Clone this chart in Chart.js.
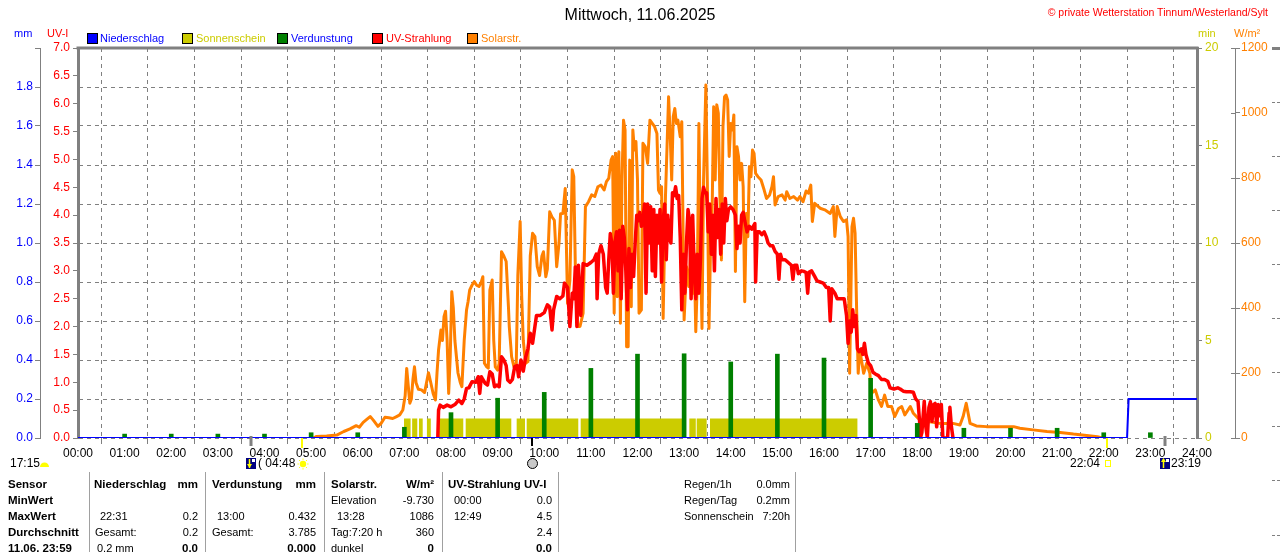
<!DOCTYPE html>
<html><head><meta charset="utf-8">
<script src="https://cdn.jsdelivr.net/npm/chart.js@4.4.1/dist/chart.umd.min.js"></script>
<style>
html,body{margin:0;padding:0;background:#fff;width:1280px;height:552px;overflow:hidden;font-family:"Liberation Sans",Arial,sans-serif;}
#wrap{position:relative;width:1280px;height:552px;overflow:hidden;}
canvas{position:absolute;left:0;top:0;}
.t{position:absolute;font-size:11px;line-height:14px;height:14px;white-space:nowrap;color:#000;}
.b{font-weight:bold;font-size:11.5px;}
.sq{position:absolute;width:9px;height:9px;border:1px solid #000;}
.vl{position:absolute;width:1px;background:#a0a0a0;top:472px;height:80px;}
</style></head>
<body><div id="wrap">
<canvas id="c" width="1280" height="552"></canvas>

<div class="t" style="left:0;width:1280px;text-align:center;top:7px;font-size:16px;line-height:16px;height:16px;">Mittwoch, 11.06.2025</div>
<div class="t" style="right:12px;top:5px;color:#ff0000;font-size:10.5px;">© private Wetterstation Tinnum/Westerland/Sylt</div>

<div class="t" style="left:14px;top:26px;color:#0000ff;">mm</div>
<div class="t" style="left:47px;top:26px;color:#ff0000;">UV-I</div>
<div class="t" style="left:1198px;top:26px;color:#cccc00;">min</div>
<div class="t" style="left:1234px;top:26px;color:#ff8000;">W/m²</div>

<div class="sq" style="left:87px;top:33px;background:#0000ff"></div><div class="t" style="left:100px;top:31px;color:#0000ff">Niederschlag</div>
<div class="sq" style="left:182px;top:33px;background:#cccc00"></div><div class="t" style="left:196px;top:31px;color:#cccc00">Sonnenschein</div>
<div class="sq" style="left:277px;top:33px;background:#008000"></div><div class="t" style="left:291px;top:31px;color:#0000ff">Verdunstung</div>
<div class="sq" style="left:372px;top:33px;background:#ff0000"></div><div class="t" style="left:386px;top:31px;color:#ff0000">UV-Strahlung</div>
<div class="sq" style="left:467px;top:33px;background:#ff8000"></div><div class="t" style="left:481px;top:31px;color:#ff8000">Solarstr.</div>

<div class="t" style="left:10px;top:456px;font-size:12px;">17:15</div>
<div class="t" style="left:258px;top:456px;font-size:12px;">( 04:48</div>
<div class="t" style="right:180px;top:456px;font-size:12px;">22:04</div>
<div class="t" style="left:1171px;top:456px;font-size:12px;">23:19</div>

<div class="vl" style="left:89px"></div>
<div class="vl" style="left:205px"></div>
<div class="vl" style="left:324px"></div>
<div class="vl" style="left:442px"></div>
<div class="vl" style="left:558px"></div>
<div class="vl" style="left:795px"></div>

<div class="t b" style="left:8px;top:477px;">Sensor</div>
<div class="t b" style="left:94px;top:477px;">Niederschlag</div>
<div class="t b" style="right:1082px;top:477px;">mm</div>
<div class="t b" style="left:212px;top:477px;">Verdunstung</div>
<div class="t b" style="right:964px;top:477px;">mm</div>
<div class="t b" style="left:331px;top:477px;">Solarstr.</div>
<div class="t b" style="right:846px;top:477px;">W/m²</div>
<div class="t b" style="left:448px;top:477px;">UV-Strahlung UV-I</div>

<div class="t b" style="left:8px;top:493px;">MinWert</div>
<div class="t" style="left:331px;top:493px;">Elevation</div>
<div class="t" style="right:846px;top:493px;">-9.730</div>
<div class="t" style="left:454px;top:493px;">00:00</div>
<div class="t" style="right:728px;top:493px;">0.0</div>

<div class="t b" style="left:8px;top:509px;">MaxWert</div>
<div class="t" style="left:100px;top:509px;">22:31</div>
<div class="t" style="right:1082px;top:509px;">0.2</div>
<div class="t" style="left:217px;top:509px;">13:00</div>
<div class="t" style="right:964px;top:509px;">0.432</div>
<div class="t" style="left:337px;top:509px;">13:28</div>
<div class="t" style="right:846px;top:509px;">1086</div>
<div class="t" style="left:454px;top:509px;">12:49</div>
<div class="t" style="right:728px;top:509px;">4.5</div>

<div class="t b" style="left:8px;top:525px;">Durchschnitt</div>
<div class="t" style="left:95px;top:525px;">Gesamt:</div>
<div class="t" style="right:1082px;top:525px;">0.2</div>
<div class="t" style="left:212px;top:525px;">Gesamt:</div>
<div class="t" style="right:964px;top:525px;">3.785</div>
<div class="t" style="left:331px;top:525px;">Tag:7:20 h</div>
<div class="t" style="right:846px;top:525px;">360</div>
<div class="t" style="right:728px;top:525px;">2.4</div>

<div class="t b" style="left:8px;top:541px;">11.06. 23:59</div>
<div class="t" style="left:97px;top:541px;">0.2 mm</div>
<div class="t b" style="right:1082px;top:541px;">0.0</div>
<div class="t b" style="right:964px;top:541px;">0.000</div>
<div class="t" style="left:331px;top:541px;">dunkel</div>
<div class="t b" style="right:846px;top:541px;">0</div>
<div class="t b" style="right:728px;top:541px;">0.0</div>

<div class="t" style="left:684px;top:477px;">Regen/1h</div>
<div class="t" style="right:490px;top:477px;">0.0mm</div>
<div class="t" style="left:684px;top:493px;">Regen/Tag</div>
<div class="t" style="right:490px;top:493px;">0.2mm</div>
<div class="t" style="left:684px;top:509px;">Sonnenschein</div>
<div class="t" style="right:490px;top:509px;">7:20h</div>
</div>
<script>
// ---- data (x in minutes after midnight) ----
const hourLabels = ['00:00','01:00','02:00','03:00','04:00','05:00','06:00','07:00','08:00','09:00','10:00','11:00','12:00',
  '13:00','14:00','15:00','16:00','17:00','18:00','19:00','20:00','21:00','22:00','23:00','24:00'];

// Niederschlag (mm)
const rainPts = [[0,0],[1350,0],[1352,0.2],[1440,0.2]];

// Verdunstung (mm) at full hours
const evapHours = [1,2,3,4,5,6,7,8,9,10,11,12,13,14,15,16,17,18,19,20,21,22,23];
const evapMM    = [0.02,0.02,0.02,0.02,0.027,0.027,0.055,0.13,0.204,0.234,0.357,0.43,0.432,0.39,0.43,0.41,0.306,0.075,0.05,0.05,0.05,0.027,0.027];

// Sonnenschein (min) periods
const sunStart = [419.5,430,438.8,449,464.6,498.9,564.5,577.4,646.9,786.7,796.2,813.3];
const sunEnd   = [428,436.6,443.6,454,495.8,557.6,575.2,643.8,781,795,809,1003.3];
const sunValue = 1;

// Solarstrahlung (W/m²)
const solarPts = [[303,0],[307,5],[320,6],[333,9],[342,20],[350,28],[358,38],[362,33],[367,48],[372,58],[376,66],[380,55],[386,36],
[390,45],[395,64],[400,62],[405,60],[410,66],[414,71],[418,86],[421,130],[423,214],[425,160],[427,107],[429,120],[431,180],[433,219],
[435,170],[438,150],[442,148],[446,140],[451,201],[454,170],[457,137],[460,117],[462,200],[464,271],[467,332],[469,300],[471,373],
[473,390],[475,300],[477,137],[479,250],[481,450],[483,400],[485,300],[487,250],[489,200],[492,170],[494,158],[497,300],[500,394],
[502,420],[504,455],[507,470],[510,481],[513,470],[516,466],[519,480],[521,496],[523,230],[526,219],[528,215],[530,455],[533,486],
[535,300],[537,219],[540,209],[542,230],[545,573],[548,560],[551,543],[554,400],[555,343],[558,250],[561,219],[564,230],[566,500],
[569,666],[571,435],[573,300],[576,230],[579,235],[582,560],[585,630],[588,620],[591,527],[594,500],[597,560],[599,573],[602,496],
[604,520],[607,696],[610,680],[613,670],[616,527],[619,600],[621,690],[624,691],[627,768],[630,414],[633,486],[636,825],[638,804],
[640,527],[643,343],[646,343],[650,384],[653,712],[657,727],[661,748],[665,743],[669,773],[673,778],[677,763],[680,789],[683,799],
[686,855],[688,866],[690,384],[692,876],[694,435],[696,881],[698,353],[700,794],[702,978],[704,948],[706,281],[708,281],[710,855],
[712,404],[714,948],[716,886],[718,912],[720,794],[722,384],[725,394],[727,907],[730,896],[733,845],[736,978],[739,968],[742,958],
[745,937],[747,763],[749,753],[751,773],[753,368],[756,743],[758,896],[760,1050],[762,937],[764,794],[766,989],[768,1014],[770,968],
[772,978],[775,927],[777,973],[780,363],[783,527],[786,466],[789,589],[791,445],[793,568],[795,327],[797,486],[799,968],[801,589],
[803,337],[805,794],[808,1086],[810,763],[812,337],[814,589],[816,691],[818,1019],[820,794],[822,1025],[824,999],[826,743],[828,548],
[830,958],[832,1050],[834,1055],[836,1040],[838,866],[840,968],[842,948],[844,994],[846,512],[848,896],[850,866],[852,794],[854,845],
[856,773],[858,419],[860,691],[862,619],[864,835],[866,804],[868,886],[870,876],[872,814],[875,804],[879,794],[883,763],[886,737],
[890,748],[893,773],[895,804],[897,717],[901,743],[906,748],[910,732],[912,758],[916,737],[921,743],[926,732],[929,743],[933,727],
[937,760],[940,753],[943,778],[945,666],[948,722],[955,707],[961,702],[968,691],[972,712],[974,620],[977,712],[981,681],[985,666],
[989,671],[991,620],[993,199],[996,650],[998,676],[1000,630],[1002,394],[1004,199],[1006,271],[1011,199],[1015,230],[1019,199],
[1021,137],[1026,148],[1030,117],[1034,97],[1038,132],[1042,97],[1047,97],[1051,66],[1056,91],[1060,97],[1064,71],[1071,97],[1075,76],
[1081,61],[1088,50],[1096,50],[1109,45],[1126,45],[1135,40],[1139,66],[1143,107],[1148,45],[1156,37],[1169,35],[1187,35],[1204,35],
[1212,30],[1229,25],[1247,20],[1264,17],[1281,12],[1298,8],[1312,4],[1318,0]];

// UV-Strahlung (UV-I)
const uvPts = [[463,0],[464,0.5],[466,0.59],[470,0.55],[475,0.59],[480,0.56],[485,0.6],[490,0.68],[494,0.62],[497,0.7],[500,0.89],
[503,0.9],[507,1.01],[512,1.0],[515,1.1],[517,0.8],[519,1.1],[521,1.05],[524,0.98],[527,0.95],[530,1.19],[533,1.15],[536,0.92],[539,0.95],
[542,0.92],[545,1.46],[548,1.4],[551,1.3],[553,1.04],[556,1.0],[559,1.05],[562,1.28],[565,1.3],[567,1.1],[570,1.4],[573,1.2],[576,1.45],
[579,1.6],[582,1.88],[585,1.7],[588,2.0],[590,2.2],[595,2.2],[600,2.25],[604,2.39],[607,2.35],[610,1.94],[612,2.3],[616,2.54],[620,2.5],
[624,2.55],[626,2.78],[630,2.7],[633,2.0],[636,2.6],[638,2.5],[640,3.07],[642,2.0],[644,3.1],[647,2.2],[650,3.13],[655,3.1],[660,3.15],
[664,3.2],[667,3.3],[668,2.5],[670,3.3],[673,3.45],[676,3.3],[679,2.7],[681,2.6],[683,3.2],[685,3.67],[687,3.5],[689,2.6],[691,3.5],
[693,3.7],[695,3.0],[697,3.73],[699,2.5],[701,3.8],[703,3.6],[705,3.0],[707,2.3],[709,3.4],[711,2.7],[713,3.3],[715,2.9],[717,3.5],
[719,4.0],[721,3.9],[723,4.05],[725,3.8],[727,3.9],[729,4.2],[731,2.6],[733,4.2],[735,3.5],[737,4.15],[739,3.0],[741,4.1],[743,2.9],
[745,4.0],[747,3.5],[749,4.1],[751,2.8],[753,3.9],[755,4.2],[757,3.2],[759,4.0],[761,3.6],[763,3.5],[765,4.4],[767,4.35],[769,4.51],
[771,4.3],[773,4.35],[775,3.6],[777,2.3],[779,3.3],[781,2.6],[783,3.5],[785,4.1],[787,3.9],[789,2.5],[791,4.0],[793,3.0],[795,2.5],
[797,3.3],[799,2.6],[801,3.2],[803,4.3],[805,4.5],[807,4.4],[809,4.4],[811,3.7],[813,4.2],[815,3.3],[817,4.0],[819,3.0],[821,4.3],
[823,3.6],[825,4.1],[827,3.3],[829,4.2],[831,3.5],[833,4.3],[835,3.9],[837,4.1],[840,4.15],[843,4.1],[846,4.0],[848,3.4],[850,3.8],
[852,3.5],[854,4.0],[856,4.05],[858,3.9],[861,3.7],[864,3.8],[867,3.75],[869,3.8],[871,3.85],[872,2.8],[874,3.7],[877,3.7],[880,3.65],
[883,3.7],[886,3.6],[888,3.5],[891,3.45],[894,3.45],[897,3.35],[900,3.3],[902,2.85],[904,3.3],[906,3.2],[910,3.2],[914,3.15],[918,3.1],
[920,2.85],[922,3.1],[925,3.1],[927,2.95],[931,3.0],[934,2.99],[937,2.97],[939,2.6],[941,2.98],[944,3.0],[948,2.9],[951,2.82],[955,2.8],
[959,2.78],[963,2.7],[966,2.7],[968,2.1],[970,2.68],[974,2.6],[977,2.5],[982,2.5],[986,2.5],[989,2.2],[991,1.7],[993,2.1],[995,1.9],
[997,2.3],[999,2.0],[1001,2.2],[1003,1.6],[1005,1.55],[1008,1.6],[1010,1.5],[1012,1.7],[1014,1.5],[1017,1.35],[1020,1.3],[1023,1.18],
[1026,1.15],[1030,1.12],[1034,1.05],[1038,1.05],[1042,1.02],[1045,0.9],[1050,0.88],[1055,0.9],[1058,0.88],[1062,0.84],[1066,0.83],
[1071,0.83],[1075,0.82],[1078,0.7],[1081,0.66],[1083,0.3],[1084,0],[1086,0.1],[1089,0.66],[1091,0.2],[1093,0],[1095,0.55],[1097,0.65],
[1099,0.3],[1101,0.6],[1103,0.62],[1105,0.2],[1107,0.6],[1109,0.4],[1111,0.6],[1113,0],[1119,0],[1121,0.45],[1122,0.55],[1124,0.2],
[1126,0]];

// Sonne / Mond Ereignisse (Minuten)
const sunMoonEvents = [
  {t:223, kind:'moonset'},
  {t:288, kind:'sunrise'},
  {t:584, kind:'moonphase'},
  {t:1324, kind:'sunset'},
  {t:1399, kind:'moonrise'}
];

// ---- build chart ----
const toXY = arr => arr.map(p => ({x:p[0], y:p[1]}));
const sunData = [];
sunStart.forEach((s,i) => {
  sunData.push({x:s,y:0},{x:s,y:sunValue},{x:sunEnd[i],y:sunValue},{x:sunEnd[i],y:0});
});

Chart.defaults.font.family = '"Liberation Sans", Arial, sans-serif';
Chart.defaults.font.size = 12;

function drawSun(ctx, cx, cy){
  ctx.fillStyle = '#ffff00'; ctx.strokeStyle = '#ffff00'; ctx.lineWidth = 1;
  ctx.beginPath(); ctx.arc(cx, cy, 3.2, 0, Math.PI*2); ctx.fill();
  for (let k=0;k<8;k++){ const a=k*Math.PI/4; ctx.beginPath();
    ctx.moveTo(cx+Math.cos(a)*4.2, cy+Math.sin(a)*4.2); ctx.lineTo(cx+Math.cos(a)*5.5, cy+Math.sin(a)*5.5); ctx.stroke(); }
}
function drawMoonBox(ctx, cx, cy, up){
  ctx.fillStyle = '#000080'; ctx.fillRect(cx-5, cy-5, 10, 11);
  ctx.fillStyle = '#ffffff'; ctx.fillRect(cx+1, cy-4, 3, 3);
  ctx.strokeStyle = '#ffff00'; ctx.lineWidth = 1.5;
  ctx.beginPath(); ctx.moveTo(cx-1.5, cy-4); ctx.lineTo(cx-1.5, cy+5); ctx.stroke();
  ctx.fillStyle = '#ffff00'; ctx.beginPath();
  if (up){ ctx.moveTo(cx-4, cy-1); ctx.lineTo(cx+1, cy-1); ctx.lineTo(cx-1.5, cy-5); }
  else { ctx.moveTo(cx-4, cy+1); ctx.lineTo(cx+1, cy+1); ctx.lineTo(cx-1.5, cy+5); }
  ctx.fill();
}

const framePlugin = {
  id:'frame',
  beforeDatasetsDraw(chart){
    const {ctx, chartArea:a} = chart;
    ctx.save();
    ctx.fillStyle = '#808080';
    ctx.fillRect(a.left-1.5, a.top-1.5, a.right-a.left+3, 3);
    ctx.restore();
  },
  afterDraw(chart){
    const {ctx, chartArea:a, scales:{x, yW}} = chart;
    ctx.save();
    // ticks crossing the W/m² axis line
    ctx.fillStyle = '#808080';
    yW.ticks.forEach(tk => { const py = Math.round(yW.getPixelForValue(tk.value)); ctx.fillRect(yW.left-4, py, 4, 1); });
    sunMoonEvents.forEach(ev => {
      const px = Math.round(x.getPixelForValue(ev.t));
      if (ev.kind === 'moonset' || ev.kind === 'moonrise'){
        ctx.fillStyle = '#808080'; ctx.fillRect(px-1.5, a.bottom-2, 3, 10);
        drawMoonBox(ctx, px, 463, ev.kind === 'moonrise');
      } else if (ev.kind === 'sunrise'){
        ctx.fillStyle = '#ffff00'; ctx.fillRect(px-1, a.bottom, 2, 10);
        drawSun(ctx, px+1, 464);
      } else if (ev.kind === 'sunset'){
        ctx.fillStyle = '#ffff00'; ctx.fillRect(px-1, a.bottom, 2, 10);
        ctx.strokeStyle = '#ffff00'; ctx.lineWidth = 1; ctx.strokeRect(px-1.5, 460.5, 5, 6);
      } else if (ev.kind === 'moonphase'){
        ctx.fillStyle = '#000'; ctx.fillRect(px-1, a.bottom, 2, 8);
        ctx.fillStyle = '#c8c8c8'; ctx.strokeStyle = '#000'; ctx.lineWidth = 1;
        ctx.beginPath(); ctx.arc(px+0.5, 463.5, 5, 0, Math.PI*2); ctx.fill(); ctx.stroke();
      }
    });
    // day length half-sun
    ctx.fillStyle = '#ffff00';
    ctx.beginPath(); ctx.arc(44.5, 467, 4.5, Math.PI, 0); ctx.fill();
    // fragment of neighbouring panel at far right
    ctx.fillStyle = '#808080';
    ctx.fillRect(1272, 47, 8, 3);
    [102,156,210,264,318,372,426,480,535].forEach(yy => {
      ctx.fillRect(1272, yy, 3, 1); ctx.fillRect(1277, yy, 3, 1);
    });
    ctx.restore();
  }
};

new Chart(document.getElementById('c'), {
  type:'line',
  data:{ datasets:[
    { type:'line', label:'Niederschlag', data:toXY(rainPts), xAxisID:'x', yAxisID:'yMM',
      borderColor:'#0000ff', borderWidth:2, pointRadius:0, tension:0, order:0 },
    { type:'bar', label:'Verdunstung', data:evapHours.map((h,i)=>({x:h*60, y:evapMM[i]})), xAxisID:'x', yAxisID:'yMM',
      backgroundColor:'#008000', borderWidth:0, barThickness:4, order:1 },
    { type:'line', label:'UV-Strahlung', data:toXY(uvPts), xAxisID:'x', yAxisID:'yUV',
      borderColor:'#ff0000', borderWidth:3.5, pointRadius:0, tension:0, borderJoinStyle:'round', order:2 },
    { type:'line', label:'Solarstr.', data:toXY(solarPts), xAxisID:'x', yAxisID:'yW',
      borderColor:'#ff8000', borderWidth:3, pointRadius:0, tension:0, borderJoinStyle:'round', order:3 },
    { type:'line', label:'Sonnenschein', data:sunData, xAxisID:'x', yAxisID:'yMin',
      borderColor:'rgba(0,0,0,0)', borderWidth:0, backgroundColor:'#cccc00', fill:'origin', pointRadius:0, tension:0, order:4 }
  ]},
  options:{
    responsive:false, animation:false, devicePixelRatio:1,
    layout:{ padding:{ top:48, bottom:84, left:0, right:0 } },
    plugins:{ legend:{display:false}, tooltip:{enabled:false}, title:{display:false} },
    scales:{
      x:{ type:'linear', position:'bottom', min:0, max:1440, offset:false,
          afterFit(s){ s.height = 30; },
          ticks:{ stepSize:60, autoSkip:false, maxRotation:0, minRotation:0, color:'#000', padding:2, font:{size:12},
                  callback:(v,i)=>hourLabels[i] },
          grid:{ color:'#808080', lineWidth:1, drawTicks:true, tickLength:6, tickBorderDash:[], tickColor:'#808080' },
          border:{ display:false, dash:[4,4] } },
      yMM:{ type:'linear', position:'left', weight:2, min:0, max:2,
          afterFit(s){ s.width = 40; },
          ticks:{ stepSize:0.2, color:'#0000ff', padding:2, font:{size:12},
                  callback:v => v > 1.9 ? '' : Number(v).toFixed(1) },
          grid:{ color:'#808080', lineWidth:1, drawOnChartArea:true, drawTicks:true, tickLength:5, tickBorderDash:[], tickColor:'#808080' },
          border:{ display:true, color:'#808080', width:1, dash:[4,4] } },
      yUV:{ type:'linear', position:'left', weight:1, min:0, max:7,
          afterFit(s){ s.width = 38; },
          ticks:{ stepSize:0.5, color:'#ff0000', padding:3, font:{size:12}, callback:v => Number(v).toFixed(1) },
          grid:{ drawOnChartArea:false, drawTicks:true, tickLength:5, color:'#808080' },
          border:{ display:true, color:'#808080', width:3 } },
      yMin:{ type:'linear', position:'right', weight:1, min:0, max:20,
          afterFit(s){ s.width = 38; },
          ticks:{ stepSize:5, color:'#cccc00', padding:3, font:{size:12}, callback:v => String(v) },
          grid:{ drawOnChartArea:false, drawTicks:true, tickLength:5, color:'#808080' },
          border:{ display:true, color:'#808080', width:3 } },
      yW:{ type:'linear', position:'right', weight:2, min:0, max:1200,
          afterFit(s){ s.width = 45; },
          ticks:{ stepSize:200, color:'#ff8000', padding:1, font:{size:12}, callback:v => String(v) },
          grid:{ drawOnChartArea:false, drawTicks:true, tickLength:5, color:'#808080' },
          border:{ display:true, color:'#808080', width:1 } }
    }
  },
  plugins:[framePlugin]
});
</script>
</body></html>
